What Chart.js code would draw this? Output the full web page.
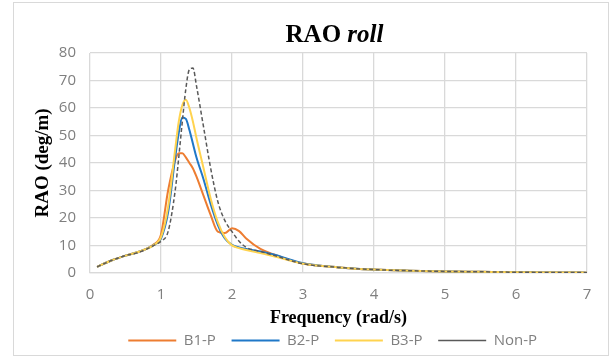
<!DOCTYPE html>
<html>
<head>
<meta charset="utf-8">
<script src="https://cdn.jsdelivr.net/npm/chart.js@4"></script>
<style>
  html, body { margin: 0; padding: 0; background: #fff; }
  #wrap { position: relative; width: 611px; height: 358px; }
</style>
</head>
<body>
<div id="wrap"><canvas id="raoChart" width="611" height="358"></canvas></div>
<script>
const FREQ = [0.1, 0.3, 0.5, 0.7, 0.9, 1.0, 1.1, 1.2, 1.25, 1.3, 1.35, 1.4, 1.45, 1.5, 1.6, 1.7, 1.8, 1.9, 2.0, 2.1, 2.2, 2.4, 2.6, 2.8, 3.0, 3.5, 4.0, 4.5, 5.0, 5.5, 6.0, 6.5, 7.0];

const B1_P = [2.2, 4.5, 6.3, 7.8, 10.4, 14, 30, 41, 43.5, 43.5, 42, 40, 38, 35, 28, 21, 15, 14.5, 16.2, 15.2, 12.5, 8.7, 6.6, 4.8, 3.4, 2.0, 1.2, 0.8, 0.55, 0.4, 0.25, 0.15, 0.1];
const B2_P = [2.2, 4.5, 6.3, 7.8, 10.2, 12.5, 22, 42, 51, 56.5, 56, 52, 47, 42, 34, 25, 17.5, 12.5, 10.2, 9.3, 8.7, 7.8, 6.6, 5.0, 3.5, 2.0, 1.2, 0.8, 0.55, 0.4, 0.25, 0.15, 0.1];
const B3_P = [2.2, 4.5, 6.3, 7.8, 10.2, 13, 24, 45, 55, 61, 63, 60, 55, 49, 38, 27, 18.5, 13, 10, 9, 8.3, 7.2, 6.0, 4.6, 3.3, 2.0, 1.2, 0.8, 0.55, 0.4, 0.25, 0.15, 0.1];
const NON_P = [2.2, 4.5, 6.3, 7.6, 10.0, 11.5, 15, 30, 42, 55, 67, 74, 74.5, 68, 53, 38, 26, 19, 15, 11.5, 9.3, 7.8, 6.3, 4.7, 3.3, 2.0, 1.2, 0.8, 0.55, 0.4, 0.25, 0.15, 0.1];

const X_TICKS = [0, 1, 2, 3, 4, 5, 6, 7];
const Y_TICKS = [0, 10, 20, 30, 40, 50, 60, 70, 80];

const GRID = "#d9d9d9";
const TICK_COLOR = "#7f7f7f";

function points(values) {
  return FREQ.map((f, i) => ({ x: f, y: values[i] }));
}

function series(label, values, color, extra) {
  return Object.assign({
    label,
    data: points(values),
    borderColor: color,
    backgroundColor: color,
    borderWidth: 2,
    pointRadius: 0,
    cubicInterpolationMode: "monotone",
  }, extra);
}

const framePlugin = {
  id: "frame",
  beforeDraw(chart) {
    const ctx = chart.ctx;
    ctx.save();
    ctx.fillStyle = "#fff";
    ctx.fillRect(0, 0, chart.width, chart.height);
    ctx.strokeStyle = GRID;
    ctx.lineWidth = 1;
    ctx.strokeRect(13.5, 2.5, 595, 353);
    ctx.restore();
  },
};

// title with mixed bold / bold-italic
const titlePlugin = {
  id: "mixedTitle",
  afterDraw(chart) {
    const ctx = chart.ctx;
    const a = "RAO ";
    const b = "roll";
    ctx.save();
    ctx.fillStyle = "#000";
    ctx.textBaseline = "alphabetic";
    ctx.font = "bold 25px 'Liberation Serif'";
    const wa = ctx.measureText(a).width;
    ctx.font = "italic bold 25px 'Liberation Serif'";
    const wb = ctx.measureText(b).width;
    const x0 = 334.5 - (wa + wb) / 2;
    ctx.font = "bold 25px 'Liberation Serif'";
    ctx.fillText(a, x0, 42);
    ctx.font = "italic bold 25px 'Liberation Serif'";
    ctx.fillText(b, x0 + wa, 42);
    ctx.restore();
  },
};

new Chart(document.getElementById("raoChart"), {
  type: "line",
  data: {
    datasets: [
      series("B1-P", B1_P, "#ed7d31", { order: 4 }),
      series("B2-P", B2_P, "#1f78c8", { order: 3 }),
      series("B3-P", B3_P, "#ffd34f", { order: 2 }),
      series("Non-P", NON_P, "#595959", { order: 1, borderWidth: 1.5, borderDash: [4, 2.5] }),
    ],
  },
  options: {
    responsive: false,
    animation: false,
    layout: { padding: { left: 22, right: 24, top: 53, bottom: 0.1 } },
    scales: {
      x: {
        type: "linear",
        min: 0,
        max: 7,
        afterBuildTicks: (scale) => { scale.ticks = X_TICKS.map((v) => ({ value: v })); },
        afterFit: (scale) => { scale.height = 56; },
        grid: { color: GRID, lineWidth: 1.3, drawTicks: false },
        border: { color: GRID, width: 1.3 },
        ticks: { color: TICK_COLOR, padding: 13, font: { family: "'Open Sans'", size: 15 } },
        title: {
          display: true,
          text: "Frequency (rad/s)",
          color: "#000",
          padding: { top: 6.5, bottom: 0 },
          font: { family: "'Liberation Serif'", size: 18, weight: "bold" },
        },
      },
      y: {
        min: 0,
        max: 80,
        afterBuildTicks: (scale) => { scale.ticks = Y_TICKS.map((v) => ({ value: v })); },
        afterFit: (scale) => { scale.width = 68; },
        grid: { color: GRID, lineWidth: 1.3, drawTicks: false },
        border: { display: false },
        ticks: { color: TICK_COLOR, padding: 14, font: { family: "'Open Sans'", size: 15 } },
        title: {
          display: true,
          text: "RAO (deg/m)",
          color: "#000",
          padding: { top: 10, bottom: 0 },
          font: { family: "'Liberation Serif'", size: 19, weight: "bold" },
        },
      },
    },
    plugins: {
      title: { display: false },
      tooltip: { enabled: false },
      legend: {
        position: "bottom",
        fullSize: false,
        labels: {
          usePointStyle: true,
          pointStyle: "line",
          pointStyleWidth: 48,
          padding: 4,
          color: TICK_COLOR,
          font: { family: "'Open Sans'", size: 15 },
          sort: (a, b) => a.datasetIndex - b.datasetIndex,
          // trailing spaces widen each entry like the Excel legend
          generateLabels: (chart) => Chart.defaults.plugins.legend.labels.generateLabels(chart)
            .map((item) => Object.assign(item, { text: item.text + "\u00a0\u00a0\u00a0" })),
        },
      },
    },
  },
  plugins: [framePlugin, titlePlugin],
});
</script>
</body>
</html>
